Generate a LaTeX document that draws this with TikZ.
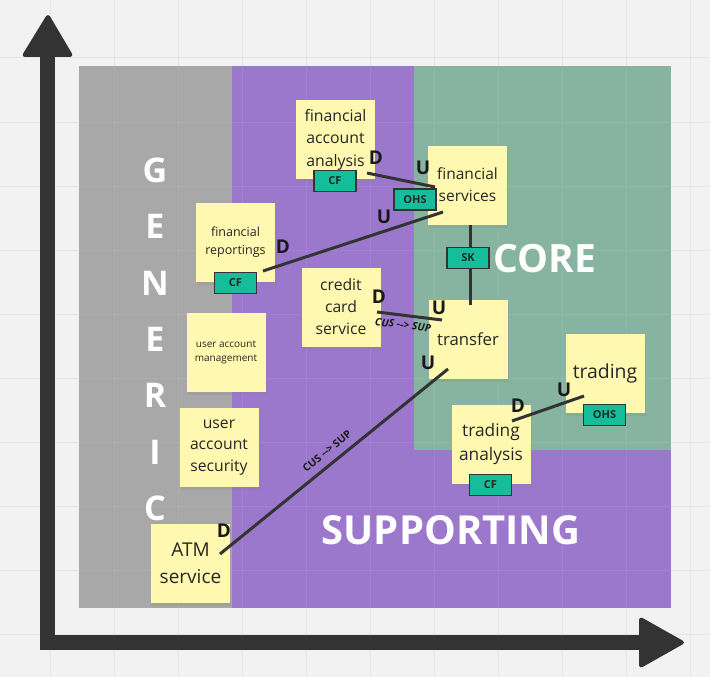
\documentclass[tikz,border=0pt]{standalone}
\usepackage{fontspec}
\setmainfont{Open Sans}
\usetikzlibrary{positioning,shadows,calc}

\definecolor{canvas}{HTML}{F2F2F2}
\definecolor{gridgray}{HTML}{E4E4E4}
\definecolor{genericgray}{HTML}{A8A8A8}
\definecolor{supportpurple}{HTML}{9B78CC}
\definecolor{coregreen}{HTML}{86B4A0}
\definecolor{stickyyellow}{HTML}{FFF8B0}
\definecolor{tagteal}{HTML}{15BD9A}
\definecolor{inkdark}{HTML}{333333}

\newcommand{\stickyfont}[2]{\fontsize{#1}{#2}\selectfont}

\tikzstyle{sticky} = [rectangle, fill=stickyyellow, text=black!85, align=center, inner sep=0pt, minimum width=79pt, minimum height=79pt, drop shadow={shadow xshift=1pt, shadow yshift=-3pt, opacity=0.18}]
\tikzstyle{tag} = [rectangle, draw=inkdark, line width=1.3pt, fill=tagteal, text=black!85, inner sep=0pt, minimum width=42pt, minimum height=21pt, font=\bfseries\stickyfont{11}{12}]
\tikzstyle{rel} = [inner sep=0pt, text=black!90, font=\bfseries\stickyfont{19}{20}]
\tikzstyle{link} = [draw=inkdark, line width=3pt]
\tikzstyle{zone} = [inner sep=0pt, text=white, font=\bfseries\stickyfont{40}{40}]
\tikzstyle{pattern} = [inner sep=0pt, text=black!90, font=\bfseries\stickyfont{10.5}{11}]

\begin{document}
\begin{tikzpicture}[x=1pt, y=-1pt]
        \useasboundingbox[fill=canvas] (0,0) rectangle (710,677);
        \foreach \gx in {50,114,...,690} \draw[gridgray, line width=1pt] (\gx,0) -- (\gx,677);
        \foreach \gy in {58,122,...,634} \draw[gridgray, line width=1pt] (0,\gy) -- (710,\gy);

        % domain zones
        \fill[genericgray] (79,66) rectangle (232,608);
        \fill[supportpurple] (232,66) rectangle (671,608);
        \fill[coregreen] (414,66) rectangle (671,450);
        \begin{scope}
            \clip (79,66) rectangle (671,608);
            \foreach \gx in {114,178,...,690} \draw[white, opacity=0.08, line width=1pt] (\gx,0) -- (\gx,677);
            \foreach \gy in {122,186,...,634} \draw[white, opacity=0.08, line width=1pt] (0,\gy) -- (710,\gy);
        \end{scope}

        % axes
        \draw[inkdark, line width=15pt] (47.5,55) -- (47.5,642.5) -- (640,642.5);
        \fill[inkdark, rounded corners=4pt] (48,13) -- (74,57) -- (21,57) -- cycle;
        \fill[inkdark, rounded corners=4pt] (686,642.5) -- (639,616) -- (639,669) -- cycle;

        % zone titles
        \foreach \l [count=\i] in {G,E,N,E,R,I,C}
            \node[zone, font=\bfseries\stickyfont{34}{34}] (gen\i) at (155,{170.5+56.3*(\i-1)}) {\l};
        \node[zone, font=\bfseries\stickyfont{39}{39}] (core) at (545,259) {CORE};
        \node[zone] (supp) at (451,530.5) {SUPPORTING};

        % bounded contexts
        \node[sticky, font=\stickyfont{15.8}{22.5}] (faa) at (335.5,139.5) {financial\\account\\analysis};
        \node[sticky, font=\stickyfont{15.5}{22}] (fs) at (467.5,185) {financial\\services};
        \node[sticky, font=\stickyfont{12.5}{18.5}] (fr) at (235.5,242) {financial\\reportings};
        \node[sticky, font=\stickyfont{15.7}{22}] (ccs) at (341,307) {credit\\card\\service};
        \node[sticky, font=\stickyfont{16.7}{20}] (tr) at (468,339.5) {transfer};
        \node[sticky, font=\stickyfont{19.4}{24}] (trd) at (605,373.5) {trading};
        \node[sticky, font=\stickyfont{17.3}{24}] (ta) at (491,444) {trading\\analysis};
        \node[sticky, font=\stickyfont{10}{14}] (uam) at (226,352) {user account\\management};
        \node[sticky, font=\stickyfont{15.7}{21.5}] (uas) at (219,447.5) {user\\account\\security};
        \node[sticky, font=\stickyfont{19}{27}] (atm) at (190.5,563.5) {ATM\\service};

        % link ends
        \coordinate (faa-d) at (367,173);
        \coordinate (fs-u1) at (435,187);
        \coordinate (fr-d) at (263,271);
        \coordinate (fs-u2) at (443,212);
        \coordinate (ccs-d) at (377,312);
        \coordinate (tr-u1) at (442,320);
        \coordinate (atm-d) at (220,554);
        \coordinate (tr-u2) at (448,369);
        \coordinate (ta-d) at (512,421);
        \coordinate (trd-u) at (584,396);

        \draw[link] (faa-d) -- (fs-u1);
        \draw[link] (fr-d) -- (fs-u2);
        \draw[link] ($(fs.south)+(2.5,0)$) -- ($(tr.north)+(2,5)$);
        \draw[link] (ccs-d) -- (tr-u1);
        \draw[link] (atm-d) -- (tr-u2);
        \draw[link] (ta-d) -- (trd-u);

        % integration patterns
        \node[tag] (faa-cf) at (335,181) {CF};
        \node[tag] (fs-ohs) at (415,199.5) {OHS};
        \node[tag] (fr-cf) at (235.5,283) {CF};
        \node[tag] (fs-sk) at (468,258) {SK};
        \node[tag] (trd-ohs) at (604.5,415) {OHS};
        \node[tag] (ta-cf) at (490.5,485) {CF};

        \node[pattern, font=\bfseries\itshape\stickyfont{10.5}{11}, rotate=-7] (cus1) at (403,325) {CUS -{}-> SUP};
        \node[pattern, rotate=39] (cus2) at (327,451) {CUS -{}-> SUP};

        % upstream / downstream
        \node[rel] (faa-dl) at (376,158) {D};
        \node[rel] (fs-ul1) at (423,168) {U};
        \node[rel] (fs-ul2) at (384,217) {U};
        \node[rel] (fr-dl) at (283,247) {D};
        \node[rel] (ccs-dl) at (379,297) {D};
        \node[rel] (tr-ul1) at (439,308) {U};
        \node[rel] (tr-ul2) at (428,363) {U};
        \node[rel] (atm-dl) at (224,531) {D};
        \node[rel] (ta-dl) at (518,406) {D};
        \node[rel] (trd-ul) at (564,390) {U};
\end{tikzpicture}
\end{document}
